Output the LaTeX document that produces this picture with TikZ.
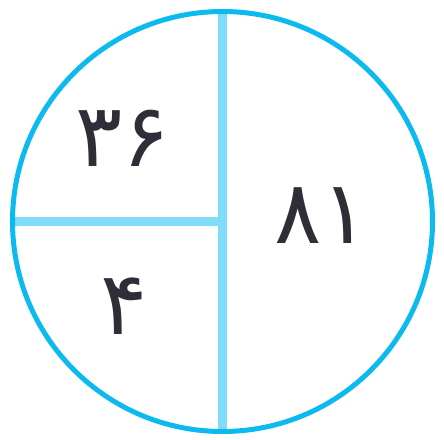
\documentclass[tikz,border=0pt]{standalone}
\usepackage{fontspec}
\newfontfamily\persianfont[Script=Arabic]{DejaVu Sans}
\definecolor{ringblue}{HTML}{0CBAF0}
\definecolor{lineblue}{HTML}{80DCF8}
\definecolor{digitgray}{HTML}{2E2E38}
\tikzset{
  ring/.style={draw=ringblue, line width=5pt},
  divider/.style={draw=lineblue, line width=8.5pt},
  num/.style={text=digitgray, font=\persianfont\fontsize{88}{100}\selectfont, inner sep=0pt}
}
\begin{document}
\begin{tikzpicture}[x=1pt,y=-1pt]
\useasboundingbox (0,0) rectangle (444,439);
\coordinate (c) at (222.5,221.5);
\coordinate (top) at (222.5,11.5);
\coordinate (bot) at (222.5,431.5);
\coordinate (lft) at (12.5,221.5);
\draw[divider] (top) -- (bot);
\draw[divider] (lft) -- (c);
\draw[ring] (c) circle[radius=210];
\node[num] (a) at (123,138) {۳۶};
\node[num] (b) at (322,216) {۸۱};
\node[num] (d) at (124,306) {۴};
\end{tikzpicture}
\end{document}
